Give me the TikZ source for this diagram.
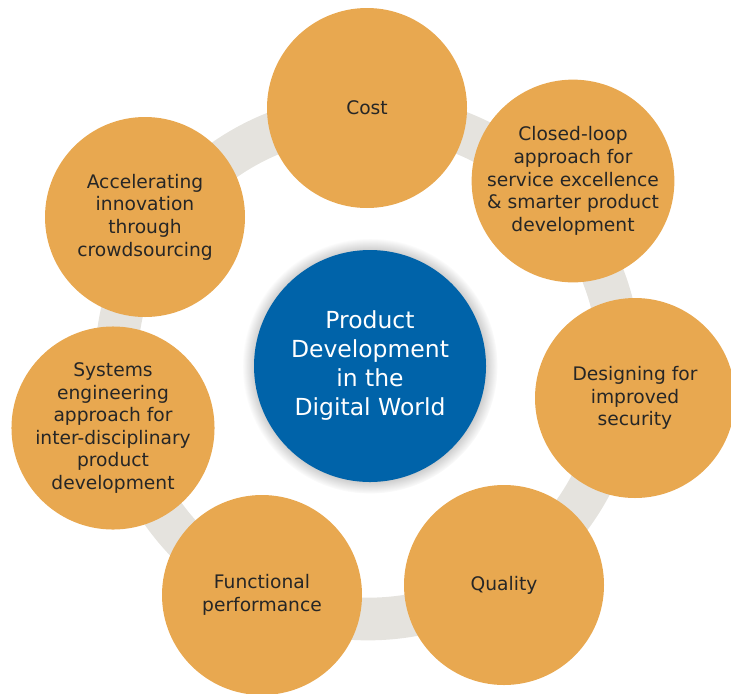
\documentclass[tikz,border=0pt]{standalone}
\usepackage{fontspec}
\setmainfont{DejaVu Sans}
\usetikzlibrary{shadows}
\definecolor{bubbleorange}{HTML}{E8A850}
\definecolor{hubblue}{HTML}{0063A9}
\definecolor{ringgray}{HTML}{E5E3DE}
\definecolor{textdark}{HTML}{262626}

\begin{document}
\begin{tikzpicture}
[x=0.75pt, y=-0.75pt, bubble/.style={circle, fill=bubbleorange, minimum size=150pt, inner sep=0pt, align=center, text=textdark, font=\fontsize{14}{16.95}\selectfont}, hub/.style={circle, fill=hubblue, minimum size=174pt, inner sep=0pt, align=center, text=white, font=\fontsize{17.6}{21.75}\selectfont, circular glow={fill=black!30, shadow scale=1.1}}, ring line/.style={line width=32pt, color=ringgray}]
    \useasboundingbox (0,0) rectangle (731,693);
    \coordinate (O) at (368,367);
    \draw[ring line] (O) circle [radius=252];
    % outer bubbles, clockwise from the top
    \node[bubble] (cost) at (367,108) {Cost};
    \node[bubble] (loop) at (573,181) {Closed-loop\\approach for\\service excellence\\\& smarter product\\development};
    \node[bubble] (security) at (635,398) {Designing for\\improved\\security};
    \node[bubble] (quality) at (504,585) {Quality};
    \node[bubble] (perf) at (262,595) {Functional\\performance};
    \node[bubble] (systems) at (113,428) {Systems\\engineering\\approach for\\inter-disciplinary\\product\\development};
    \node[bubble] (crowd) at (145,217) {Accelerating\\innovation\\through\\crowdsourcing};
    % hub
    \node[hub] (hub) at (370,366) {Product\\Development\\in the\\Digital World};
\end{tikzpicture}
\end{document}
